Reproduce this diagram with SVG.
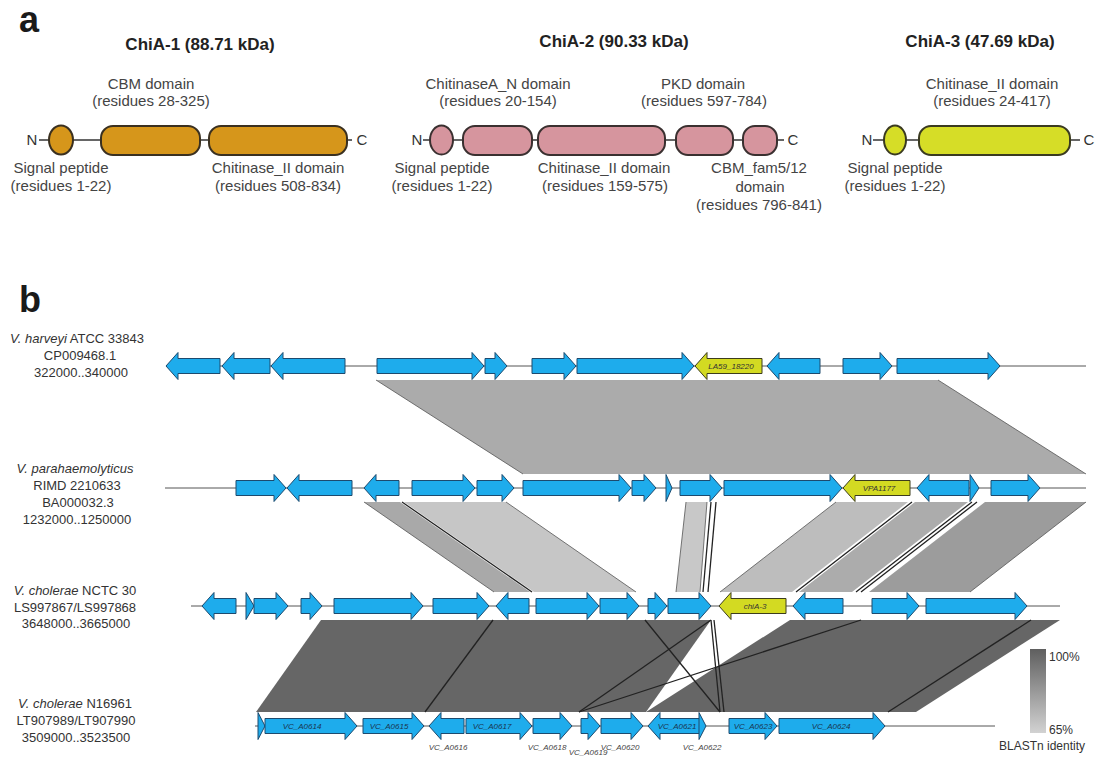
<svg xmlns="http://www.w3.org/2000/svg" width="1099" height="757" viewBox="0 0 1099 757">
<defs>
<linearGradient id="idgrad" x1="0" y1="0" x2="0" y2="1">
<stop offset="0" stop-color="#5f5f5f"/>
<stop offset="1" stop-color="#d2d2d2"/>
</linearGradient>
</defs>
<style>
text{font-family:"Liberation Sans",Arial,sans-serif}
.panel{font-size:36px;font-weight:bold;fill:#1a1a1a}
.title{font-size:17px;font-weight:bold;fill:#222;text-anchor:middle}
.lab{font-size:15px;fill:#444;text-anchor:middle}
.term{font-size:15px;fill:#333;text-anchor:middle}
.bb{stroke:#333;stroke-width:1.5;fill:none}
.d1{fill:#d6961b;stroke:#3a3020;stroke-width:2}
.d2{fill:#d6959e;stroke:#3a3030;stroke-width:2}
.d3{fill:#d6dd27;stroke:#3a3a20;stroke-width:2}
.sp{font-size:13px;fill:#333;text-anchor:middle}
.trk{stroke:#555;stroke-width:1;fill:none}
.g{fill:#1eacec;stroke:#1d4a6e;stroke-width:1}
.y{fill:#d3da22;stroke:#3c3c1c;stroke-width:1}
.gl{font-size:8px;font-style:italic;fill:#1a3550;text-anchor:middle}
.yl{font-size:8px;font-style:italic;fill:#333;text-anchor:middle}
.bl{font-size:8px;font-style:italic;fill:#444;text-anchor:middle}
.edge{stroke:#555;stroke-width:0.8;fill:none}
.hit{stroke:#222;stroke-width:1.3;fill:none}
.leg{font-size:12px;fill:#333}
</style>

<text class="panel" x="19" y="32">a</text>
<text class="panel" x="19" y="312">b</text>

<!-- Part a: ChiA-1 -->
<g id="chia1">
<text class="title" x="200" y="50">ChiA-1 (88.71 kDa)</text>
<line class="bb" x1="39" y1="140" x2="352" y2="140"/>
<text class="term" x="32" y="145">N</text>
<text class="term" x="362" y="145">C</text>
<g id="chia1-sp"><ellipse class="d1" cx="61" cy="140" rx="12" ry="14.5"/></g>
<g id="chia1-cbm"><rect class="d1" x="101" y="126" width="99" height="29" rx="12"/></g>
<g id="chia1-chit"><rect class="d1" x="209" y="126" width="138" height="29" rx="12"/></g>
<text class="lab" x="151" y="89">CBM domain</text>
<text class="lab" x="151" y="106">(residues 28-325)</text>
<text class="lab" x="61" y="173">Signal peptide</text>
<text class="lab" x="61" y="191">(residues 1-22)</text>
<text class="lab" x="278" y="173">Chitinase_II domain</text>
<text class="lab" x="278" y="191">(residues 508-834)</text>
</g>

<!-- Part a: ChiA-2 -->
<g id="chia2">
<text class="title" x="614" y="47">ChiA-2 (90.33 kDa)</text>
<line class="bb" x1="423" y1="140" x2="784" y2="140"/>
<text class="term" x="417" y="145">N</text>
<text class="term" x="793" y="145">C</text>
<g id="chia2-sp"><ellipse class="d2" cx="441.5" cy="140" rx="11.5" ry="14.5"/></g>
<g id="chia2-chitn"><rect class="d2" x="463" y="126" width="69" height="29" rx="12"/></g>
<g id="chia2-chit"><rect class="d2" x="538" y="126" width="127" height="29" rx="12"/></g>
<g id="chia2-pkd"><rect class="d2" x="676" y="126" width="57" height="29" rx="12"/></g>
<g id="chia2-cbm"><rect class="d2" x="743" y="126" width="34" height="29" rx="12"/></g>
<text class="lab" x="498" y="89">ChitinaseA_N domain</text>
<text class="lab" x="498" y="106">(residues 20-154)</text>
<text class="lab" x="703" y="89">PKD domain</text>
<text class="lab" x="704" y="106">(residues 597-784)</text>
<text class="lab" x="442" y="173">Signal peptide</text>
<text class="lab" x="442" y="191">(residues 1-22)</text>
<text class="lab" x="604" y="173">Chitinase_II domain</text>
<text class="lab" x="605" y="191">(residues 159-575)</text>
<text class="lab" x="759" y="173">CBM_fam5/12</text>
<text class="lab" x="760" y="192">domain</text>
<text class="lab" x="759" y="210">(residues 796-841)</text>
</g>

<!-- Part a: ChiA-3 -->
<g id="chia3">
<text class="title" x="980" y="47">ChiA-3 (47.69 kDa)</text>
<line class="bb" x1="873" y1="140" x2="1080" y2="140"/>
<text class="term" x="867" y="145">N</text>
<text class="term" x="1089" y="145">C</text>
<g id="chia3-sp"><ellipse class="d3" cx="895" cy="140" rx="11" ry="14.5"/></g>
<g id="chia3-chit"><rect class="d3" x="919" y="126" width="151" height="29" rx="12"/></g>
<text class="lab" x="992" y="89">Chitinase_II domain</text>
<text class="lab" x="992" y="106">(residues 24-417)</text>
<text class="lab" x="895" y="173">Signal peptide</text>
<text class="lab" x="895" y="191">(residues 1-22)</text>
</g>

<!-- Part b: connectors (BLASTn hits) -->
<g id="connectors">
<polygon fill="#ababab" points="376,380 938,380 1086,474 523,474"/>
<line class="edge" x1="376" y1="380" x2="523" y2="474"/>
<line class="edge" x1="938" y1="380" x2="1086" y2="474"/>

<polygon fill="#a9a9a9" points="364,502 400,502 530,592 494,592"/>
<polygon fill="#c6c6c6" points="404,502 506,502 636,592 534,592"/>
<line class="edge" x1="364" y1="502" x2="494" y2="592"/>
<line class="hit" x1="402" y1="502" x2="532" y2="592"/>
<line class="edge" x1="506" y1="502" x2="636" y2="592"/>
<polygon fill="#c8c8c8" points="686,502 707,502 700,592 676,592"/>
<line class="edge" x1="686" y1="502" x2="676" y2="592"/>
<line class="edge" x1="707" y1="502" x2="700" y2="592"/>
<line class="hit" x1="711" y1="502" x2="703" y2="592"/>
<line class="hit" x1="716" y1="502" x2="708" y2="592"/>
<polygon fill="#bdbdbd" points="836,502 908,502 792,592 720,592"/>
<line class="edge" x1="836" y1="502" x2="720" y2="592"/>
<line class="hit" x1="912" y1="502" x2="796" y2="592"/>
<polygon fill="#acacac" points="915,502 968,502 852,592 799,592"/>
<line class="hit" x1="972" y1="502" x2="856" y2="592"/>
<line class="hit" x1="977" y1="502" x2="861" y2="592"/>
<polygon fill="#9c9c9c" points="985,502 1086,502 970,592 869,592"/>
<line class="edge" x1="1086" y1="502" x2="970" y2="592"/>

<polygon fill="#666666" points="321,620 711,620 646,712 256,712"/>
<polygon fill="#666666" points="790,620 1060,620 916,712 646,712"/>
<line class="hit" x1="493" y1="620" x2="425" y2="712"/>
<line class="hit" x1="645" y1="620" x2="720" y2="712"/>
<line class="hit" x1="711" y1="620" x2="579" y2="712"/>
<line class="hit" x1="861" y1="620" x2="579" y2="712"/>
<line class="hit" x1="711" y1="620" x2="720" y2="712"/>
<line class="hit" x1="714" y1="620" x2="724" y2="712"/>
<line class="hit" x1="1031" y1="620" x2="888" y2="712"/>
</g>

<!-- Track 1: V. harveyi -->
<g id="track1">
<text class="sp" x="77" y="343"><tspan font-style="italic">V. harveyi</tspan> ATCC 33843</text>
<text class="sp" x="80" y="360">CP009468.1</text>
<text class="sp" x="81" y="377">322000..340000</text>
<g transform="translate(0,366)">
<line class="trk" x1="166" y1="0" x2="1086" y2="0"/>
<path class="g" d="M220,-7.5 H178 V-13.5 L166,0 L178,13.5 V7.5 H220 Z"/>
<path class="g" d="M270,-7.5 H234 V-13.5 L222,0 L234,13.5 V7.5 H270 Z"/>
<path class="g" d="M345,-7.5 H283 V-13.5 L271,0 L283,13.5 V7.5 H345 Z"/>
<path class="g" d="M377,-7.5 H472 V-13.5 L484,0 L472,13.5 V7.5 H377 Z"/>
<path class="g" d="M485,-7.5 H495 V-13.5 L507,0 L495,13.5 V7.5 H485 Z"/>
<path class="g" d="M532,-7.5 H564 V-13.5 L576,0 L564,13.5 V7.5 H532 Z"/>
<path class="g" d="M577,-7.5 H682 V-13.5 L694,0 L682,13.5 V7.5 H577 Z"/>
<g id="LA59_18220"><path class="y" d="M762,-7.5 H707 V-13.5 L695,0 L707,13.5 V7.5 H762 Z"/>
<text class="yl" x="731" y="3">LA59_18220</text></g>
<path class="g" d="M820,-7.5 H779 V-13.5 L767,0 L779,13.5 V7.5 H820 Z"/>
<path class="g" d="M843,-7.5 H880 V-13.5 L892,0 L880,13.5 V7.5 H843 Z"/>
<path class="g" d="M897,-7.5 H988 V-13.5 L1000,0 L988,13.5 V7.5 H897 Z"/>
</g>
</g>

<!-- Track 2: V. parahaemolyticus -->
<g id="track2">
<text class="sp" x="75" y="473" font-style="italic">V. parahaemolyticus</text>
<text class="sp" x="77" y="490">RIMD 2210633</text>
<text class="sp" x="78" y="507">BA000032.3</text>
<text class="sp" x="77" y="524">1232000..1250000</text>
<g transform="translate(0,488)">
<line class="trk" x1="165" y1="0" x2="1086" y2="0"/>
<path class="g" d="M236,-7.5 H274 V-13.5 L286,0 L274,13.5 V7.5 H236 Z"/>
<path class="g" d="M352,-7.5 H299 V-13.5 L287,0 L299,13.5 V7.5 H352 Z"/>
<path class="g" d="M399,-7.5 H376 V-13.5 L364,0 L376,13.5 V7.5 H399 Z"/>
<path class="g" d="M412,-7.5 H463 V-13.5 L475,0 L463,13.5 V7.5 H412 Z"/>
<path class="g" d="M477,-7.5 H502 V-13.5 L514,0 L502,13.5 V7.5 H477 Z"/>
<path class="g" d="M523,-7.5 H619 V-13.5 L631,0 L619,13.5 V7.5 H523 Z"/>
<path class="g" d="M632,-7.5 H644 V-13.5 L656,0 L644,13.5 V7.5 H632 Z"/>
<path class="g" d="M666,-13.5 L672,0 L666,13.5 Z"/>
<path class="g" d="M680,-7.5 H710 V-13.5 L722,0 L710,13.5 V7.5 H680 Z"/>
<path class="g" d="M724,-7.5 H830 V-13.5 L842,0 L830,13.5 V7.5 H724 Z"/>
<g id="VPA1177"><path class="y" d="M910,-7.5 H855 V-13.5 L843,0 L855,13.5 V7.5 H910 Z"/>
<text class="yl" x="879" y="3">VPA1177</text></g>
<path class="g" d="M969,-7.5 H929 V-13.5 L917,0 L929,13.5 V7.5 H969 Z"/>
<path class="g" d="M970,-13.5 L979,0 L970,13.5 Z"/>
<path class="g" d="M991,-7.5 H1028 V-13.5 L1040,0 L1028,13.5 V7.5 H991 Z"/>
</g>
</g>

<!-- Track 3: V. cholerae NCTC 30 -->
<g id="track3">
<text class="sp" x="75" y="595"><tspan font-style="italic">V. cholerae</tspan> NCTC 30</text>
<text class="sp" x="75" y="612">LS997867/LS997868</text>
<text class="sp" x="76" y="628">3648000..3665000</text>
<g transform="translate(0,606)">
<line class="trk" x1="191" y1="0" x2="1060" y2="0"/>
<path class="g" d="M236,-7.5 H214 V-13.5 L202,0 L214,13.5 V7.5 H236 Z"/>
<path class="g" d="M246,-13.5 L254,0 L246,13.5 Z"/>
<path class="g" d="M254,-7.5 H276 V-13.5 L288,0 L276,13.5 V7.5 H254 Z"/>
<path class="g" d="M301,-7.5 H310 V-13.5 L322,0 L310,13.5 V7.5 H301 Z"/>
<path class="g" d="M334,-7.5 H411 V-13.5 L423,0 L411,13.5 V7.5 H334 Z"/>
<path class="g" d="M433,-7.5 H477 V-13.5 L489,0 L477,13.5 V7.5 H433 Z"/>
<path class="g" d="M529,-7.5 H508 V-13.5 L496,0 L508,13.5 V7.5 H529 Z"/>
<path class="g" d="M536,-7.5 H587 V-13.5 L599,0 L587,13.5 V7.5 H536 Z"/>
<path class="g" d="M600,-7.5 H627 V-13.5 L639,0 L627,13.5 V7.5 H600 Z"/>
<path class="g" d="M648,-7.5 H655 V-13.5 L667,0 L655,13.5 V7.5 H648 Z"/>
<path class="g" d="M668,-7.5 H699 V-13.5 L711,0 L699,13.5 V7.5 H668 Z"/>
<g id="chiA-3"><path class="y" d="M786,-7.5 H731 V-13.5 L719,0 L731,13.5 V7.5 H786 Z"/>
<text class="yl" x="755" y="3">chiA-3</text></g>
<path class="g" d="M843,-7.5 H805 V-13.5 L793,0 L805,13.5 V7.5 H843 Z"/>
<path class="g" d="M872,-7.5 H907 V-13.5 L919,0 L907,13.5 V7.5 H872 Z"/>
<path class="g" d="M926,-7.5 H1015 V-13.5 L1027,0 L1015,13.5 V7.5 H926 Z"/>
</g>
</g>

<!-- Track 4: V. cholerae N16961 -->
<g id="track4">
<text class="sp" x="75" y="708"><tspan font-style="italic">V. cholerae</tspan> N16961</text>
<text class="sp" x="76" y="725">LT907989/LT907990</text>
<text class="sp" x="76" y="742">3509000..3523500</text>
<g transform="translate(0,726)">
<line class="trk" x1="255" y1="0" x2="995" y2="0"/>
<path class="g" d="M258,-13.5 L265,0 L258,13.5 Z"/>
<g id="VC_A0614"><path class="g" d="M265,-7.5 H345 V-13.5 L357,0 L345,13.5 V7.5 H265 Z"/><text class="gl" x="302" y="3">VC_A0614</text></g>
<g id="VC_A0615"><path class="g" d="M363,-7.5 H412 V-13.5 L424,0 L412,13.5 V7.5 H363 Z"/><text class="gl" x="389" y="3">VC_A0615</text></g>
<g id="VC_A0616"><path class="g" d="M464,-7.5 H441 V-13.5 L429,0 L441,13.5 V7.5 H464 Z"/><text class="bl" x="448" y="24">VC_A0616</text></g>
<g id="VC_A0617"><path class="g" d="M466,-7.5 H520 V-13.5 L532,0 L520,13.5 V7.5 H466 Z"/><text class="gl" x="492" y="3">VC_A0617</text></g>
<g id="VC_A0618"><path class="g" d="M533,-7.5 H560 V-13.5 L572,0 L560,13.5 V7.5 H533 Z"/><text class="bl" x="547" y="24">VC_A0618</text></g>
<g id="VC_A0619"><path class="g" d="M581,-7.5 H588 V-13.5 L600,0 L588,13.5 V7.5 H581 Z"/><text class="bl" x="588" y="29">VC_A0619</text></g>
<g id="VC_A0620"><path class="g" d="M601,-7.5 H631 V-13.5 L643,0 L631,13.5 V7.5 H601 Z"/><text class="bl" x="620" y="24">VC_A0620</text></g>
<g id="VC_A0621"><path class="g" d="M700,-7.5 H660 V-13.5 L648,0 L660,13.5 V7.5 H700 Z"/><text class="gl" x="677" y="3">VC_A0621</text></g>
<g id="VC_A0622"><path class="g" d="M699,-13.5 L706,0 L699,13.5 Z"/><text class="bl" x="702" y="24">VC_A0622</text></g>
<g id="VC_A0623"><path class="g" d="M729,-7.5 H765 V-13.5 L777,0 L765,13.5 V7.5 H729 Z"/><text class="gl" x="753" y="3">VC_A0623</text></g>
<g id="VC_A0624"><path class="g" d="M779,-7.5 H873 V-13.5 L885,0 L873,13.5 V7.5 H779 Z"/><text class="gl" x="831" y="3">VC_A0624</text></g>
</g>
</g>

<!-- Legend -->
<g id="legend">
<rect x="1030" y="649" width="16" height="84" fill="url(#idgrad)"/>
<text class="leg" x="1049" y="661">100%</text>
<text class="leg" x="1049" y="734">65%</text>
<text class="leg" x="1042" y="750" text-anchor="middle">BLASTn identity</text>
</g>
</svg>
